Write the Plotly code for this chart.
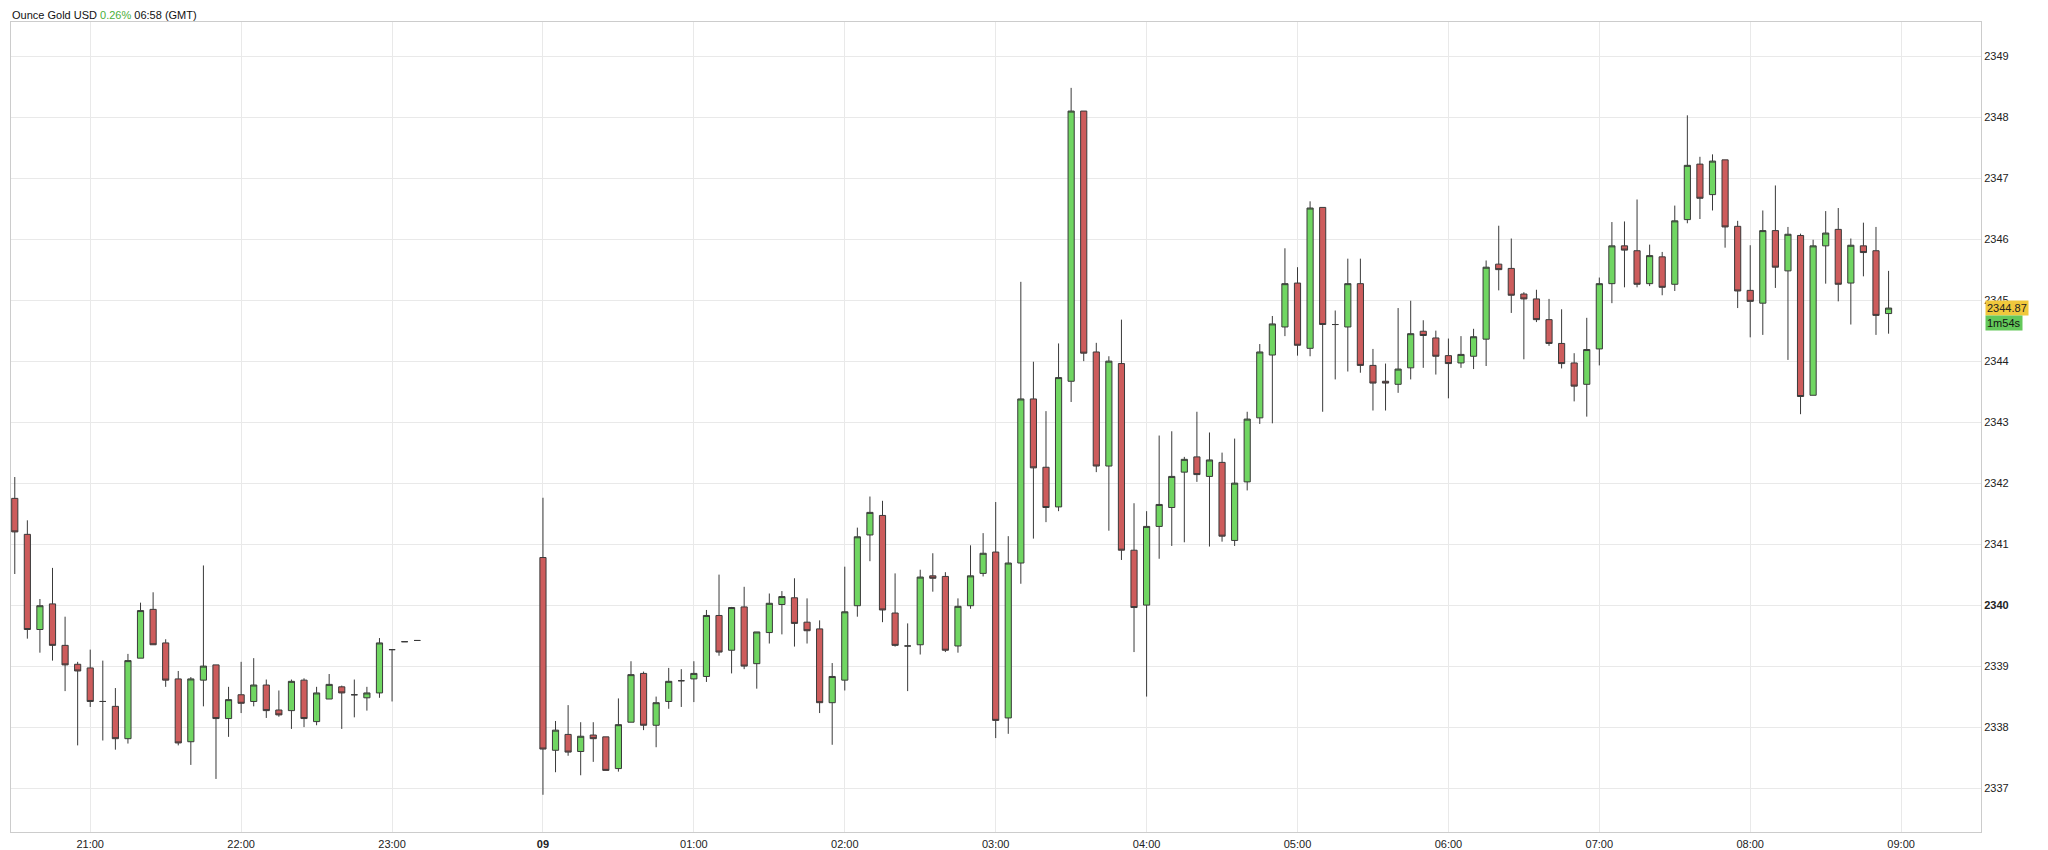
import pandas as pd
import plotly.graph_objects as go

# 5-minute candles, evening session (20:30 - 23:10) and day session (00:00 - 08:55)
evening_times = pd.date_range("2024-05-08 20:30", "2024-05-08 23:10", freq="5min")
day_times = pd.date_range("2024-05-09 00:00", "2024-05-09 08:55", freq="5min")

evening_open = [2341.75, 2341.16, 2339.60, 2340.02, 2339.34, 2339.03, 2338.97, 2338.42, 2338.34, 2337.81,
                2339.13, 2339.93, 2339.38, 2338.79, 2337.76, 2338.77, 2339.02, 2338.14, 2338.53, 2338.42,
                2338.69, 2338.28, 2338.27, 2338.77, 2338.09, 2338.46, 2338.66, 2338.53, 2338.48, 2338.56,
                2339.27, 2339.40, 2339.42]
evening_high = [2342.10, 2341.39, 2340.10, 2340.61, 2339.81, 2339.07, 2339.27, 2339.09, 2338.64, 2339.20,
                2340.04, 2340.21, 2339.44, 2338.92, 2338.82, 2340.65, 2339.02, 2338.66, 2339.07, 2339.13,
                2338.78, 2338.60, 2338.78, 2338.80, 2338.66, 2338.87, 2338.68, 2338.78, 2338.66, 2339.46,
                2339.27, 2339.40, 2339.42]
evening_low = [2340.51, 2339.45, 2339.22, 2339.09, 2338.59, 2337.70, 2338.33, 2337.78, 2337.63, 2337.73,
               2339.13, 2339.35, 2338.66, 2337.70, 2337.38, 2338.34, 2337.15, 2337.84, 2338.23, 2338.34,
               2338.15, 2338.17, 2337.97, 2338.00, 2338.03, 2338.46, 2337.97, 2338.16, 2338.27, 2338.48,
               2338.42, 2339.40, 2339.42]
evening_close = [2341.20, 2339.60, 2339.99, 2339.34, 2339.02, 2338.92, 2338.42, 2338.42, 2337.81, 2339.09,
                 2339.91, 2339.35, 2338.77, 2337.74, 2338.79, 2339.00, 2338.14, 2338.45, 2338.39, 2338.69,
                 2338.27, 2338.20, 2338.75, 2338.14, 2338.56, 2338.70, 2338.56, 2338.53, 2338.56, 2339.38,
                 2339.27, 2339.40, 2339.42]

day_open = [2340.78, 2337.62, 2337.88, 2337.60, 2337.87, 2337.84, 2337.32, 2338.08, 2338.88, 2338.03,
            2338.42, 2338.76, 2338.79, 2338.83, 2339.83, 2339.26, 2339.97, 2339.04, 2339.55, 2340.01,
            2340.12, 2339.72, 2339.61, 2338.40, 2338.77, 2339.99, 2341.15, 2341.47, 2339.87, 2339.33,
            2339.35, 2340.48, 2340.47, 2339.33, 2339.99, 2340.52, 2340.87,
            2338.15, 2340.69, 2343.38, 2342.26, 2341.61, 2343.67, 2348.10, 2344.15, 2342.28, 2343.96,
            2340.90, 2340.00, 2341.29, 2341.60, 2342.18, 2342.43, 2342.11, 2342.34, 2341.06, 2342.02,
            2343.07,
            2344.10, 2344.56, 2345.28, 2344.21, 2346.52, 2344.60, 2344.56, 2345.27, 2343.93, 2343.67,
            2343.62, 2343.89, 2344.49, 2344.38, 2344.09, 2343.97, 2344.08, 2344.36, 2345.59, 2345.52,
            2345.10, 2345.02,
            2344.68, 2344.29, 2343.97, 2343.62, 2344.20, 2345.27, 2345.89, 2345.81, 2345.27, 2345.71,
            2345.26, 2346.32, 2347.23, 2346.73, 2347.30, 2346.21, 2345.16, 2344.95, 2346.14, 2345.48,
            2346.06, 2343.44, 2345.89, 2346.16, 2345.28, 2345.89, 2345.81, 2344.78]
day_high = [2341.76, 2338.10, 2338.36, 2338.08, 2338.08, 2337.84, 2338.47, 2339.08, 2338.91, 2338.50,
            2338.97, 2338.95, 2339.08, 2339.92, 2340.50, 2339.97, 2340.30, 2339.56, 2340.19, 2340.23,
            2340.44, 2340.11, 2339.75, 2339.05, 2340.63, 2341.27, 2341.78, 2341.71, 2340.52, 2339.70,
            2340.58, 2340.85, 2340.54, 2340.11, 2340.98, 2341.18, 2341.69,
            2341.13, 2345.30, 2343.99, 2343.18, 2344.29, 2348.48, 2348.10, 2344.30, 2344.08, 2344.68,
            2341.67, 2341.54, 2342.78, 2342.85, 2342.43, 2343.17, 2342.83, 2342.50, 2342.73, 2343.17,
            2344.28,
            2344.74, 2345.85, 2345.54, 2346.62, 2346.52, 2344.83, 2345.68, 2345.68, 2344.20, 2343.96,
            2344.87, 2344.99, 2344.67, 2344.50, 2344.37, 2344.41, 2344.53, 2345.65, 2346.22, 2346.01,
            2345.13, 2345.17,
            2345.02, 2344.85, 2344.13, 2344.71, 2345.37, 2346.28, 2346.29, 2346.65, 2345.91, 2345.79,
            2346.55, 2348.03, 2347.35, 2347.39, 2347.30, 2346.30, 2345.90, 2346.47, 2346.88, 2346.20,
            2346.09, 2345.99, 2346.46, 2346.51, 2346.01, 2346.27, 2346.20, 2345.48]
day_low = [2336.89, 2337.26, 2337.53, 2337.21, 2337.43, 2337.29, 2337.27, 2338.08, 2337.95, 2337.67,
           2338.30, 2338.33, 2338.41, 2338.74, 2339.17, 2338.88, 2338.95, 2338.63, 2339.37, 2339.52,
           2339.32, 2339.37, 2338.23, 2337.71, 2338.60, 2339.81, 2340.72, 2339.72, 2339.32, 2338.59,
           2339.19, 2340.22, 2339.23, 2339.22, 2339.94, 2340.47, 2337.82,
           2337.89, 2340.35, 2341.09, 2341.36, 2341.54, 2343.33, 2344.00, 2342.18, 2341.22, 2340.74,
           2339.23, 2338.50, 2340.76, 2340.97, 2341.03, 2342.02, 2340.96, 2341.04, 2340.97, 2341.88,
           2342.97,
           2342.98, 2344.41, 2344.09, 2344.08, 2343.17, 2343.70, 2343.83, 2343.81, 2343.19, 2343.19,
           2343.48, 2343.70, 2343.89, 2343.78, 2343.39, 2343.89, 2343.87, 2343.92, 2345.16, 2344.79,
           2344.03, 2344.64,
           2344.25, 2343.88, 2343.34, 2343.09, 2343.93, 2344.95, 2345.21, 2345.21, 2345.23, 2345.08,
           2345.15, 2346.26, 2346.33, 2346.47, 2345.86, 2344.87, 2344.39, 2344.43, 2345.20, 2344.02,
           2343.13, 2343.44, 2345.27, 2344.98, 2344.60, 2345.39, 2344.43, 2344.45]
day_close = [2337.64, 2337.95, 2337.59, 2337.85, 2337.81, 2337.29, 2338.04, 2338.86, 2338.03, 2338.40,
             2338.75, 2338.76, 2338.88, 2339.83, 2339.23, 2339.96, 2339.00, 2339.56, 2340.03, 2340.14,
             2339.70, 2339.58, 2338.40, 2338.83, 2339.89, 2341.12, 2341.52, 2339.92, 2339.34, 2339.33,
             2340.46, 2340.44, 2339.26, 2339.98, 2340.48, 2340.85, 2338.11,
             2340.69, 2343.38, 2342.25, 2341.60, 2343.73, 2348.10, 2344.13, 2342.28, 2344.00, 2340.90,
             2339.96, 2341.29, 2341.65, 2342.11, 2342.39, 2342.14, 2342.38, 2341.13, 2342.00, 2343.05,
             2344.15,
             2344.61, 2345.27, 2344.26, 2346.51, 2344.60, 2344.60, 2345.27, 2343.93, 2343.64, 2343.64,
             2343.87, 2344.45, 2344.42, 2344.08, 2343.96, 2344.11, 2344.40, 2345.54, 2345.50, 2345.08,
             2345.02, 2344.68,
             2344.29, 2343.96, 2343.59, 2344.19, 2345.27, 2345.89, 2345.82, 2345.26, 2345.73, 2345.21,
             2346.30, 2347.21, 2346.67, 2347.28, 2346.20, 2345.15, 2344.98, 2346.14, 2345.54, 2346.08,
             2343.42, 2345.89, 2346.10, 2345.26, 2345.90, 2345.78, 2344.75, 2344.87]

x_tick_vals = ["2024-05-08 21:00", "2024-05-08 22:00", "2024-05-08 23:00", "2024-05-09 00:00",
               "2024-05-09 01:00", "2024-05-09 02:00", "2024-05-09 03:00", "2024-05-09 04:00",
               "2024-05-09 05:00", "2024-05-09 06:00", "2024-05-09 07:00", "2024-05-09 08:00",
               "2024-05-09 09:00"]
x_tick_text = ["21:00", "22:00", "23:00", "<b>09</b>", "01:00", "02:00", "03:00", "04:00",
               "05:00", "06:00", "07:00", "08:00", "09:00"]
y_tick_vals = list(range(2337, 2350))
y_tick_text = ["<b>2340</b>" if v == 2340 else str(v) for v in y_tick_vals]

last_price = 2344.87
countdown = "1m54s"

times = list(evening_times) + list(day_times)
fig = go.Figure(go.Candlestick(
    x=times,
    open=evening_open + day_open,
    high=evening_high + day_high,
    low=evening_low + day_low,
    close=evening_close + day_close,
    increasing=dict(fillcolor="rgb(112,214,98)", line=dict(color="#3a3a3a", width=1)),
    decreasing=dict(fillcolor="rgb(205,92,92)", line=dict(color="#3a3a3a", width=1)),
    whiskerwidth=0,
    hoverinfo="x+y",
))

fig.update_layout(
    width=2040, height=844,
    margin=dict(l=3, r=67, t=14, b=20),
    paper_bgcolor="white", plot_bgcolor="white",
    font=dict(family="Liberation Sans, Arial, sans-serif", size=11, color="#222"),
    showlegend=False,
    xaxis=dict(
        rangeslider=dict(visible=False),
        range=["2024-05-08 20:28:30", "2024-05-09 09:31:45"],
        tickvals=x_tick_vals, ticktext=x_tick_text,
        showgrid=True, gridcolor="#e9e9e9", gridwidth=1,
        showline=True, linecolor="#cccccc", mirror=True,
        ticks="", ticklabelstandoff=2,
    ),
    yaxis=dict(
        side="right", range=[2336.28, 2349.56],
        tickvals=y_tick_vals, ticktext=y_tick_text,
        showgrid=True, gridcolor="#e9e9e9", gridwidth=1,
        showline=True, linecolor="#cccccc", mirror=True,
        ticks="", zeroline=False,
    ),
    annotations=[
        dict(text="Ounce Gold USD <span style='color:#4caf3a'>0.26%</span> 06:58 (GMT)",
             xref="paper", yref="paper", x=0.0, y=1.0, yshift=0, xanchor="left", yanchor="bottom",
             showarrow=False, borderpad=0, font=dict(size=11, color="#111")),
        dict(text=f"{last_price:.2f}", xref="paper", yref="y", x=1.0, y=last_price,
             xanchor="left", yanchor="middle", showarrow=False, xshift=4,
             bgcolor="rgb(240,200,60)", font=dict(size=11, color="#222"), borderpad=1),
        dict(text=countdown, xref="paper", yref="y", x=1.0, y=last_price,
             xanchor="left", yanchor="middle", showarrow=False, xshift=4, yshift=-15,
             bgcolor="rgb(100,200,90)", font=dict(size=11, color="#111"), borderpad=1),
    ],
)

fig.write_html("out.html")
